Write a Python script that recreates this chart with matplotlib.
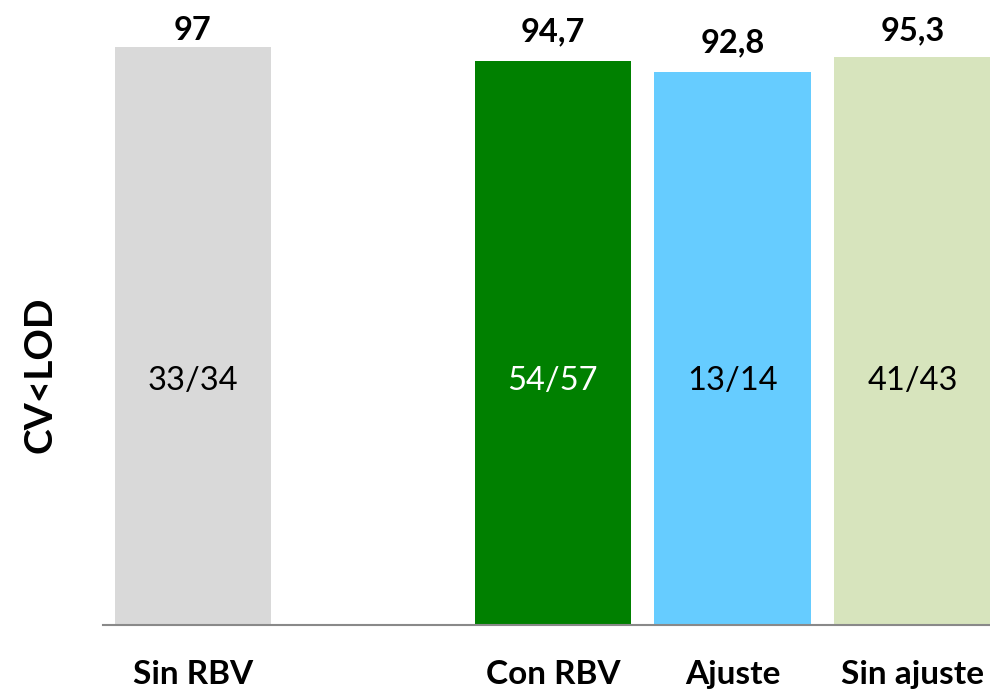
import matplotlib.pyplot as plt

plt.rcParams['font.family'] = ['Lato', 'DejaVu Sans']

categories = ["Sin RBV", "Con RBV", "Ajuste", "Sin ajuste"]
positions = [0, 2, 3, 4]
values = [97, 94.7, 92.8, 95.3]
top_labels = ["97", "94,7", "92,8", "95,3"]
inner_labels = ["33/34", "54/57", "13/14", "41/43"]
colors = ["#D9D9D9", "#008000", "#66CCFF", "#D7E4BD"]
inner_colors = ["black", "white", "black", "black"]

fig = plt.figure(figsize=(9.9, 6.91), dpi=100)
ax = fig.add_axes([0.104, 0.0955, 0.896, 0.9045])

ax.bar(positions, values, width=0.87, color=colors)

for x, v, t, il, ic in zip(positions, values, top_labels, inner_labels, inner_colors):
    # labels sit above the bar but are capped near the top of the chart
    ty = min(v + 3.3, 98.2)
    ax.text(x, ty, t, ha="center", va="baseline", fontsize=23.5, fontweight="bold")
    ax.text(x, 41, il, ha="center", va="center", fontsize=23.5, color=ic)

ax.set_xlim(-0.5, 4.43)
ax.set_ylim(0, 104.9)
ax.set_xticks(positions)
ax.set_xticklabels(categories, fontsize=24, fontweight="bold")
ax.tick_params(axis="x", length=0, pad=25)
ax.set_yticks([])
for s in ["top", "right", "left"]:
    ax.spines[s].set_visible(False)
ax.spines["bottom"].set_color("#898989")
ax.spines["bottom"].set_linewidth(1.5)

fig.text(0.04, 0.457, "CV<LOD", rotation=90, ha="center", va="center",
         fontsize=28, fontweight="bold")

fig.savefig("out.png", dpi=100)
